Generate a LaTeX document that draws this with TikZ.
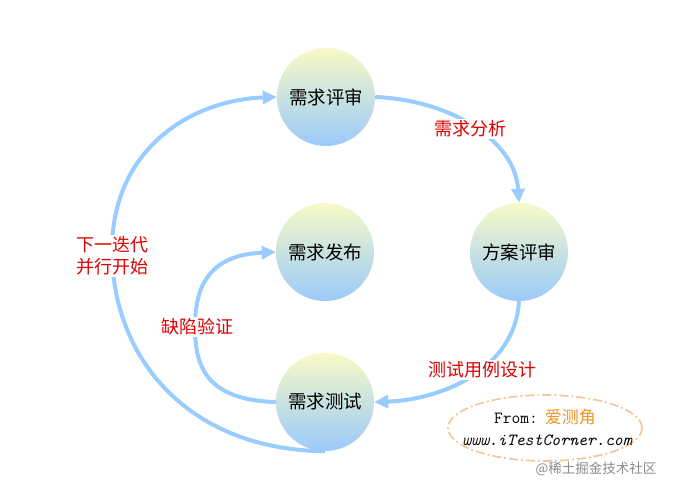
\documentclass[tikz,border=0pt]{standalone}
\usepackage{fontspec}
\newfontfamily\cjk{Noto Sans CJK SC}
\usetikzlibrary{arrows.meta,shapes.geometric}
\definecolor{lineblue}{RGB}{153,204,255}
\definecolor{topy}{RGB}{248,250,198}
\definecolor{boty}{RGB}{155,202,250}
\definecolor{lblred}{RGB}{225,0,0}
\definecolor{orng}{RGB}{248,196,150}
\definecolor{orngtxt}{RGB}{240,150,40}
\begin{document}
\begin{tikzpicture}[x=1pt,y=-1pt,
  stage/.style={circle, minimum size=98pt, inner sep=0pt, top color=topy, bottom color=boty, draw=none,
    font=\cjk\fontsize{18.5}{20}\selectfont},
  flow/.style={draw=lineblue, line width=4pt, -{Triangle[length=14pt,width=13pt]}},
  lbl/.style={fill=white, text=lblred, font=\cjk\fontsize{18}{22}\selectfont, inner sep=1.5pt, align=center}]
\useasboundingbox (0,0) rectangle (675,492);
\fill[white] (0,0) rectangle (675,492);

\node[stage] (rev)  at (326,97)  {需求评审};
\node[stage] (pub)  at (325,252) {需求发布};
\node[stage] (plan) at (519,252) {方案评审};
\node[stage] (test) at (325,402) {需求测试};

\draw[flow] (rev.east) .. controls (450,100) and (515,140) .. (plan.north);
\draw[flow] (plan.south) .. controls (515,370) and (440,400) .. (test.east);
\draw[flow] (test.west) .. controls (205,400) and (195,365) .. (195,327) .. controls (195,285) and (210,255) .. (pub.west);
\draw[flow] (test.south) .. controls (190,450) and (112,360) .. (112,250) .. controls (112,150) and (190,100) .. (rev.west);

\node[lbl] (l1) at (470,129) {需求分析};
\node[lbl] (l2) at (482,370) {测试用例设计};
\node[lbl] (l3) at (197,327) {缺陷验证};
\node[lbl] (l4) at (112,256) {下一迭代\\并行开始};

\node[ellipse, draw=orng, line width=1.6pt, dash pattern=on 9pt off 3pt on 2pt off 3pt,
  minimum width=194pt, minimum height=66pt, inner sep=0pt] (src) at (545,428) {};
\node[anchor=base, inner sep=0pt] (from) at (545,423) {\ttfamily\fontsize{17}{18}\selectfont From:\hspace{0.4em}\textcolor{orngtxt}{\cjk\fontsize{17}{18}\selectfont 爱测角}};
\node[anchor=base, inner sep=0pt] (url) at (547,445) {\ttfamily\itshape\fontsize{17}{18}\selectfont www.iTestCorner.com};
\node[text=black!45, font=\cjk\fontsize{13.5}{15}\selectfont, inner sep=0pt] (wm) at (596,469) {@稀土掘金技术社区};
\end{tikzpicture}
\end{document}
